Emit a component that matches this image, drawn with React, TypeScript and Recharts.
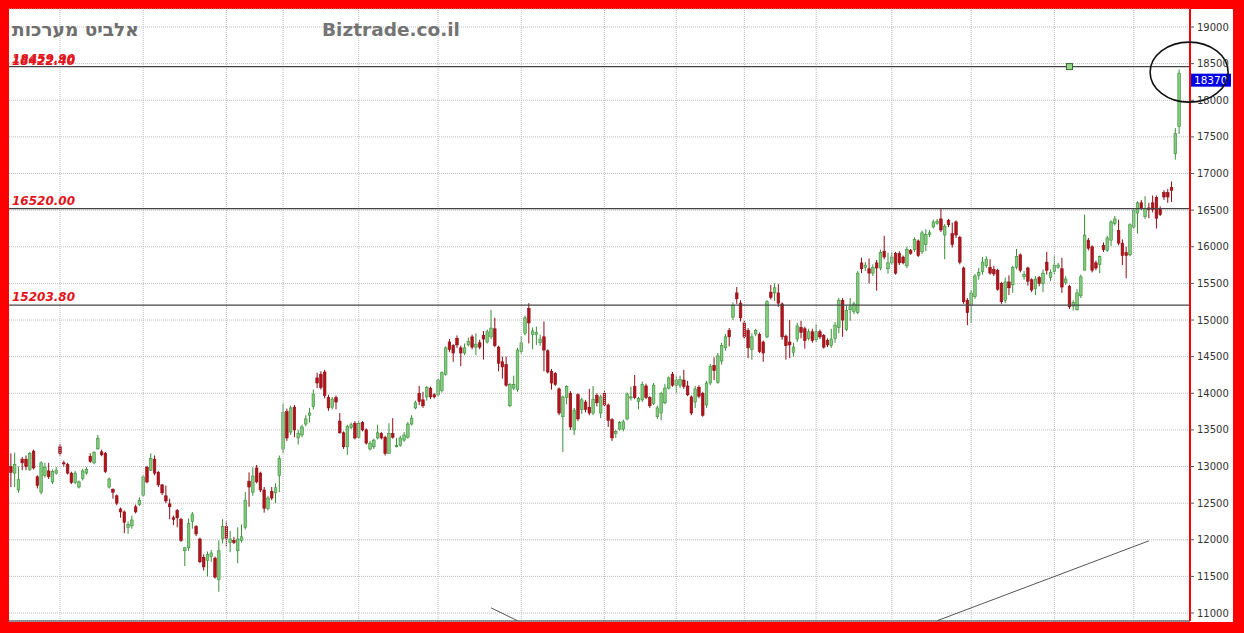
import React from "react";
import {
  ComposedChart,
  Bar,
  XAxis,
  YAxis,
  CartesianGrid,
  ReferenceLine,
  ReferenceDot,
} from "recharts";

// daily candles (oldest first)
const opens = [
  13000, 12910, 12680, 13100, 13100, 12960, 13210, 12860, 12650, 12880,
  12940, 12790, 12910, 13270, 13050, 13030, 12910, 12780, 12720, 12840,
  12910, 13140, 13050, 13240, 13200, 13180, 12720, 12690, 12600, 12420,
  12380, 12170, 12190, 12450, 12480, 12610, 12990, 12950, 13100, 12920,
  12750, 12600, 12490, 12300, 12400, 12280, 11850, 11890, 12250, 12180,
  12010, 11760, 11720, 11770, 11750, 11460, 12020, 12180, 11960, 11990,
  11850, 11990, 12170, 12800, 12650, 12980, 12910, 12680, 12430, 12660,
  12640, 12880, 13240, 13750, 13470, 13810, 13390, 13430, 13580, 13700,
  13820, 14210, 14260, 14290, 13940, 13810, 13940, 13620, 13460, 13270,
  13530, 13590, 13400, 13600, 13500, 13240, 13270, 13390, 13450, 13400,
  13180, 13450, 13270, 13290, 13360, 13400, 13580, 13800, 14000, 13910,
  13950, 14070, 13980, 13980, 14040, 14260, 14700, 14650, 14750, 14620,
  14550, 14660, 14770, 14630, 14690, 14790, 14700, 14770, 14880, 14630,
  14430, 14390, 13830, 14070, 14050, 14570, 14820, 15160, 14800, 14800,
  14690, 14770, 14580, 14300, 14270, 14060, 13680, 13940, 14000, 13500,
  13980, 13780, 13880, 13810, 13730, 13970, 13730, 14000, 13840, 13640,
  13450, 13510, 13510, 13650, 13940, 14090, 13890, 13910, 14100, 13940,
  13860, 13680, 13730, 13870, 14070, 14260, 14110, 14110, 14180, 14100,
  13950, 13880, 14080, 14000, 13840, 14140, 14380, 14150, 14440, 14620,
  14860, 15040, 15370, 15230, 14960, 14860, 14600, 14810, 14800, 14700,
  14770, 15380, 15370, 15370, 15220, 14780, 14700, 14560, 14740, 14900,
  14880, 14750, 14840, 14730, 14840, 14790, 14720, 14650, 14750, 14900,
  15270, 14870, 15140, 15120, 15100, 15780, 15720, 15700, 15640, 15780,
  15710, 15940, 15700, 15780, 15910, 15910, 15860, 15740, 15950, 15960,
  16080, 15930, 16030, 16170, 16270, 16320, 16380, 16160, 16360, 16180,
  16340, 16130, 15710, 15270, 15200, 15320, 15610, 15660, 15740, 15720,
  15690, 15680, 15500, 15270, 15520, 15480, 15720, 15890, 15590, 15710,
  15550, 15430, 15580, 15500, 15790, 15580, 15660, 15720, 15700, 15510,
  15460, 15190, 15140, 15330, 15680, 16090, 16000, 15780, 15760, 16020,
  15950, 16090, 16320, 16220, 16050, 15920, 15890, 16270, 16460, 16600,
  16410, 16530, 16600, 16670, 16520, 16740, 16740, 16810, 17270, 17640,
];

const highs = [
  13180, 13190, 13000, 13130, 13150, 13200, 13230, 12880, 13070, 13050,
  13050, 12960, 12990, 13310, 13080, 13050, 12930, 12940, 12810, 12970,
  12990, 13180, 13210, 13430, 13230, 13200, 12850, 12700, 12620, 12440,
  12400, 12250, 12330, 12480, 12580, 12880, 13010, 13180, 13150, 12940,
  12760, 12740, 12560, 12330, 12420, 12300, 11900, 12290, 12380, 12200,
  12030, 11800, 11840, 11860, 11770, 11990, 12280, 12250, 12120, 12040,
  12170, 12210, 12650, 12920, 12990, 13020, 12930, 12720, 12600, 12720,
  12770, 13150, 13860, 13790, 13830, 13840, 13500, 13570, 13700, 13800,
  14050, 14280, 14300, 14320, 13980, 13950, 13970, 13730, 13480, 13570,
  13600, 13620, 13620, 13620, 13520, 13350, 13380, 13570, 13470, 13420,
  13590, 13660, 13390, 13420, 13470, 13610, 13700, 13900, 14100, 14020,
  14100, 14090, 14000, 14200, 14300, 14640, 14740, 14670, 14790, 14650,
  14680, 14760, 14800, 14820, 14730, 14850, 14870, 15140, 15030, 14650,
  14500, 14500, 14140, 14240, 14620, 14780, 15060, 15230, 14900, 14910,
  14800, 14980, 14600, 14330, 14290, 14080, 13970, 14110, 14030, 13800,
  14000, 13940, 13910, 14060, 14100, 14000, 13980, 14030, 13860, 13660,
  13500, 13620, 13640, 14010, 14090, 14250, 13950, 14160, 14130, 13960,
  14140, 13830, 14020, 14130, 14230, 14290, 14240, 14240, 14320, 14170,
  13970, 14100, 14110, 14020, 14170, 14400, 14490, 14550, 14690, 14810,
  14890, 15240, 15450, 15270, 14990, 14890, 14820, 14880, 14830, 14720,
  15270, 15480, 15500, 15490, 15240, 14800, 15000, 14690, 14960, 14990,
  14910, 14880, 14880, 14940, 14870, 14810, 14750, 14880, 14970, 15300,
  15300, 15200, 15300, 15250, 15670, 15850, 15790, 15840, 15760, 15820,
  15960, 16150, 15920, 15920, 15930, 15940, 15880, 16000, 15970, 16130,
  16100, 16220, 16240, 16230, 16370, 16380, 16520, 16310, 16380, 16330,
  16360, 16150, 15730, 15300, 15410, 15630, 15710, 15860, 15870, 15830,
  15740, 15700, 15520, 15580, 15610, 15740, 15970, 15910, 15670, 15730,
  15570, 15600, 15600, 15690, 15930, 15690, 15880, 15780, 15850, 15600,
  15480, 15270, 15420, 15620, 16440, 16120, 16020, 15810, 15880, 16060,
  16150, 16360, 16420, 16370, 16100, 16000, 16320, 16520, 16620, 16640,
  16690, 16600, 16700, 16700, 16550, 16770, 16790, 16890, 17620, 18420,
];

const lows = [
  12720, 12720, 12640, 12950, 12950, 12940, 12960, 12700, 12620, 12850,
  12830, 12760, 12890, 13150, 13000, 12890, 12760, 12760, 12700, 12810,
  12890, 13050, 13030, 13230, 13140, 12910, 12700, 12560, 12470, 12300,
  12090, 12080, 12150, 12360, 12460, 12590, 12770, 12940, 12880, 12720,
  12610, 12500, 12280, 12200, 12170, 11970, 11640, 11850, 12150, 12050,
  11680, 11580, 11500, 11700, 11470, 11290, 11950, 11900, 11830, 11940,
  11680, 11960, 12140, 12450, 12600, 12770, 12650, 12370, 12400, 12540,
  12500, 12650, 13180, 13350, 13430, 13400, 13300, 13400, 13550, 13600,
  13780, 14070, 14050, 13930, 13760, 13780, 13780, 13450, 13240, 13160,
  13510, 13370, 13380, 13480, 13300, 13220, 13240, 13370, 13370, 13150,
  13180, 13380, 13260, 13270, 13340, 13380, 13560, 13780, 13840, 13800,
  13900, 13920, 13930, 13950, 14010, 14240, 14560, 14430, 14620, 14370,
  14520, 14640, 14600, 14520, 14600, 14460, 14680, 14740, 14630, 14300,
  14200, 14090, 13810, 14040, 14020, 14540, 14790, 14680, 14600, 14660,
  14650, 14300, 14270, 14050, 14100, 13700, 13200, 13850, 13500, 13430,
  13620, 13720, 13740, 13700, 13700, 13820, 13660, 13820, 13540, 13350,
  13390, 13490, 13480, 13630, 13900, 13920, 13780, 13880, 13920, 13800,
  13840, 13650, 13630, 13850, 14050, 14090, 14000, 14070, 14060, 13960,
  13700, 13800, 13930, 13680, 13800, 14110, 14180, 14130, 14390, 14580,
  14640, 15000, 15220, 14980, 14740, 14480, 14460, 14780, 14550, 14430,
  14750, 15280, 15260, 15180, 14730, 14460, 14480, 14500, 14700, 14750,
  14610, 14720, 14690, 14700, 14740, 14610, 14630, 14620, 14690, 14820,
  14770, 14850, 14990, 15080, 15080, 15640, 15670, 15500, 15600, 15400,
  15680, 15830, 15630, 15750, 15620, 15750, 15760, 15710, 15890, 15930,
  15860, 15900, 15940, 16130, 16250, 16300, 16200, 15830, 16270, 15990,
  16120, 15760, 15220, 14930, 14960, 15290, 15550, 15620, 15710, 15620,
  15600, 15400, 15220, 15230, 15340, 15370, 15690, 15650, 15550, 15470,
  15380, 15340, 15460, 15380, 15620, 15530, 15620, 15700, 15370, 15480,
  15150, 15130, 15130, 15300, 15680, 15950, 15650, 15680, 15640, 15930,
  15930, 16010, 16290, 16020, 15750, 15570, 15870, 16240, 16180, 16500,
  16380, 16390, 16470, 16250, 16420, 16640, 16600, 16610, 17190, 17540,
];

const closes = [
  12920, 13030, 12820, 13050, 13000, 13180, 12980, 12740, 13050, 12990,
  12860, 12930, 12950, 13180, 13040, 12910, 12780, 12910, 12790, 12940,
  12960, 13070, 13190, 13380, 13160, 12930, 12830, 12650, 12500, 12380,
  12240, 12210, 12270, 12380, 12540, 12860, 12790, 13110, 12910, 12750,
  12640, 12530, 12450, 12280, 12300, 11990, 11890, 12220, 12350, 12080,
  11700, 11630, 11800, 11820, 11490, 11850, 12180, 12020, 12010, 11960,
  12010, 12040, 12540, 12720, 12870, 12790, 12680, 12430, 12570, 12570,
  12710, 13110, 13740, 13390, 13800, 13500, 13450, 13540, 13650, 13730,
  13990, 14140, 14080, 13970, 13800, 13920, 13880, 13460, 13270, 13550,
  13570, 13390, 13590, 13500, 13320, 13320, 13360, 13460, 13390, 13180,
  13450, 13400, 13290, 13390, 13430, 13580, 13660, 13870, 13890, 13830,
  14080, 13950, 13950, 14180, 14280, 14620, 14600, 14550, 14660, 14550,
  14620, 14710, 14630, 14670, 14630, 14740, 14840, 14890, 14650, 14410,
  14360, 14110, 14120, 14120, 14590, 14690, 15030, 14960, 14850, 14830,
  14740, 14590, 14290, 14140, 14120, 13730, 13950, 14090, 13540, 13770,
  13650, 13910, 13780, 13730, 13920, 13870, 13950, 13840, 13630, 13390,
  13480, 13600, 13610, 13990, 13950, 13940, 13930, 14120, 13940, 13830,
  14110, 13800, 14000, 14070, 14210, 14110, 14180, 14190, 14090, 13980,
  13730, 14060, 13960, 13700, 14140, 14370, 14310, 14510, 14650, 14770,
  14770, 15200, 15290, 15030, 14770, 14620, 14770, 14860, 14570, 14550,
  15250, 15310, 15440, 15230, 14770, 14650, 14660, 14630, 14920, 14830,
  14720, 14840, 14720, 14840, 14770, 14630, 14660, 14740, 14930, 15270,
  15000, 15130, 15180, 15220, 15640, 15700, 15750, 15640, 15720, 15710,
  15920, 15860, 15780, 15860, 15640, 15780, 15780, 15960, 15910, 16100,
  15880, 16190, 16170, 16190, 16340, 16350, 16230, 16280, 16300, 16030,
  16160, 15790, 15250, 15100, 15370, 15600, 15650, 15790, 15830, 15640,
  15630, 15420, 15250, 15520, 15440, 15720, 15870, 15680, 15620, 15530,
  15410, 15560, 15500, 15640, 15680, 15650, 15750, 15750, 15450, 15560,
  15180, 15240, 15370, 15590, 16160, 15980, 15680, 15710, 15870, 15960,
  16120, 16340, 16380, 16050, 15880, 15880, 16300, 16500, 16600, 16530,
  16520, 16510, 16510, 16390, 16440, 16680, 16680, 16770, 17550, 18370,
];

// candle index of each dated vertical grid line (labels are hidden under the frame)
const gridTicks = [13, 35, 57, 72, 92, 113, 135, 157, 176, 194, 213, 233, 254, 276, 297];

const yTicks = [
  11000, 11500, 12000, 12500, 13000, 13500, 14000, 14500, 15000,
  15500, 16000, 16500, 17000, 17500, 18000, 18500, 19000,
];

const levels = [18459.9, 16520, 15203.8];
const ghostLevel = 18422.4;
const lastPrice = 18370;

// drawn trend lines: [startIndex, startValue, endIndex, endValue]
const trendA = [127, 11070, 134, 10895];
const trendB = [245, 10895, 301, 11985];
const markerIndex = 280;

const data = closes.map((c, i) => ({
  i,
  o: opens[i],
  h: highs[i],
  l: lows[i],
  c,
  range: [lows[i], highs[i]],
}));

const labelStyle = {
  fill: "#e3141c",
  fontSize: 12,
  fontWeight: 700,
  fontStyle: "italic",
  fontFamily: "DejaVu Sans",
};

function Candle(props: any) {
  const { x, y, width, height, payload } = props;
  if (x == null || !payload) return null;
  const { o, h, l, c } = payload;
  const top = Math.min(y, y + height);
  const span = Math.abs(height);
  const k = h > l ? span / (h - l) : 0;
  const cx = x + width / 2;
  const yOf = (v: number) => top + (h - v) * k;
  const up = c >= o;
  const bTop = yOf(Math.max(o, c));
  const bH = Math.max(1, Math.abs(yOf(o) - yOf(c)));
  const edge = up ? "#3b8d3b" : "#8c0d14";
  const fill = up ? "#80cc7c" : "#b3141c";
  return (
    <g>
      <line x1={cx} x2={cx} y1={top} y2={top + span} stroke={edge} strokeWidth={1} />
      <rect x={cx - 1.3} y={bTop} width={2.6} height={bH} fill={fill} stroke={edge} strokeWidth={0.6} />
    </g>
  );
}

const levelLabel = (text: string) => (p: any) => (
  <text x={p.viewBox.x + 3} y={p.viewBox.y - 4} {...labelStyle}>
    {text}
  </text>
);

const priceTag = (p: any) => {
  const x0 = p.viewBox.x + p.viewBox.width;
  const y0 = p.viewBox.y;
  return (
    <g>
      <rect x={x0} y={y0 + 0.5} width={41} height={13} fill="#0000e6" />
      <text x={x0 + 4} y={y0 + 11} fill="#fff" fontSize={10.5} fontFamily="DejaVu Sans">
        {lastPrice}
      </text>
    </g>
  );
};

export default function App() {
  return (
    <div style={{ position: "absolute", left: 0, top: 0, width: 1244, height: 633, background: "#ff0000" }}>
      <div style={{ position: "absolute", left: 9, top: 9, width: 1224, height: 613, background: "#fff" }} />
      <div style={{ position: "absolute", left: 0, top: 0 }}>
        <ComposedChart
          width={1244}
          height={633}
          data={data}
          margin={{ top: 9, right: 0, bottom: 0, left: 9 }}
        >
          <CartesianGrid stroke="#bdbdbd" strokeDasharray="1 1" vertical={false} />
          {gridTicks.map((t) => (
            <ReferenceLine key={"g" + t} x={t} stroke="#bdbdbd" strokeDasharray="1 1" />
          ))}
          <XAxis
            dataKey="i"
            type="category"
            ticks={gridTicks}
            interval={0}
            tick={false}
            tickLine={false}
            axisLine={{ stroke: "#333" }}
            height={12}
            padding={{ left: 0, right: 9 }}
          />
          <YAxis
            orientation="right"
            type="number"
            domain={[10891, 19246]}
            allowDataOverflow
            ticks={yTicks}
            interval={0}
            width={54}
            axisLine={{ stroke: "#ff0000", strokeWidth: 2 }}
            tickLine={{ stroke: "#555" }}
            tickSize={4}
            tickMargin={3}
            tick={{ fontSize: 10, fill: "#333", fontFamily: "DejaVu Sans" }}
          />
          <ReferenceLine y={ghostLevel} stroke="none" label={levelLabel("18422.40")} />
          {levels.map((v) => (
            <ReferenceLine
              key={v}
              y={v}
              stroke="#444"
              strokeWidth={1.2}
              label={levelLabel(v.toFixed(2))}
            />
          ))}
          <ReferenceLine
            segment={[{ x: trendA[0], y: trendA[1] }, { x: trendA[2], y: trendA[3] }]}
            stroke="#555"
          />
          <ReferenceLine
            segment={[{ x: trendB[0], y: trendB[1] }, { x: trendB[2], y: trendB[3] }]}
            stroke="#555"
          />
          <Bar dataKey="range" isAnimationActive={false} shape={(p: any) => <Candle {...p} />} />
          <ReferenceLine y={lastPrice} stroke="none" label={priceTag} />
          <ReferenceDot
            x={markerIndex}
            y={levels[0]}
            shape={(p: any) => (
              <rect x={p.cx - 3} y={p.cy - 3} width={6} height={6} fill="#9bd98a" stroke="#2f6b2f" />
            )}
          />
          <ReferenceDot
            x={closes.length - 1}
            y={lastPrice}
            shape={(p: any) => (
              <ellipse cx={p.cx + 10} cy={p.cy - 1} rx={39} ry={30} fill="none" stroke="#111" strokeWidth={1.6} />
            )}
          />
        </ComposedChart>
      </div>
      <svg
        width={1244}
        height={633}
        style={{ position: "absolute", left: 0, top: 0, pointerEvents: "none" }}
      >
        <text x={12} y={36} fill="#6e6e6e" fontSize={18.5} fontWeight={700} fontFamily="DejaVu Sans">
          אלביט מערכות
        </text>
        <text x={322} y={36} fill="#747474" fontSize={18.5} fontWeight={700} fontFamily="DejaVu Sans">
          Biztrade.co.il
        </text>
      </svg>
    </div>
  );
}
